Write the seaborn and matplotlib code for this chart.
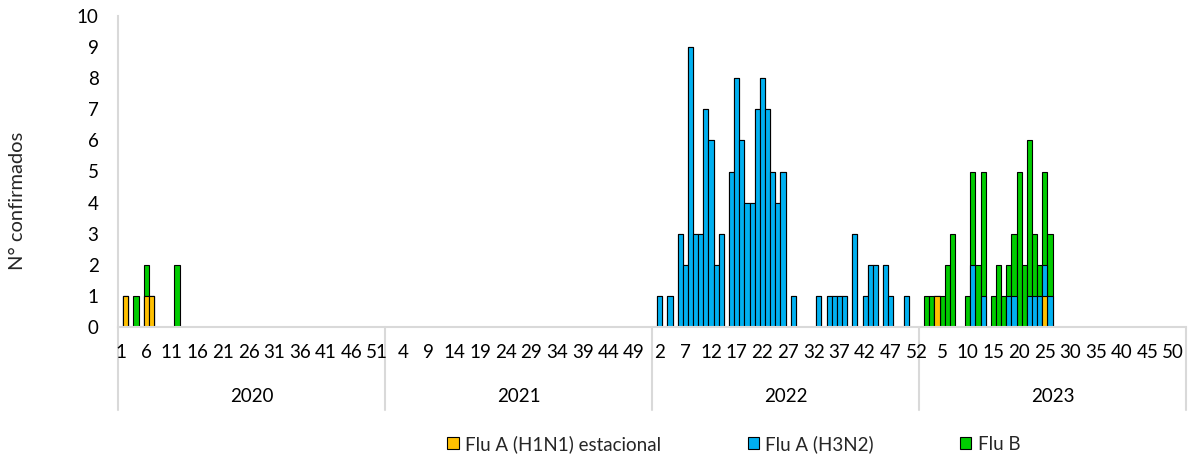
import numpy as np
import pandas as pd
import matplotlib
matplotlib.use("Agg")
import matplotlib.pyplot as plt
import matplotlib.transforms as mtransforms
from matplotlib.patches import Patch
import seaborn as sns

# ---- data ----
years = [2020, 2021, 2022, 2023]
weeks_per_year = 52
series_names = ["Flu A (H1N1) estacional", "Flu A (H3N2)", "Flu B"]
colors = ["#FFC000", "#00B0F0", "#00CC00"]

# (year, week, count)
h1n1_cases = [(2020, 2, 1), (2020, 6, 1), (2020, 7, 1), (2023, 4, 1), (2023, 25, 1)]
h3n2_cases = [
    (2022, 2, 1), (2022, 4, 1), (2022, 6, 3), (2022, 7, 2), (2022, 8, 9),
    (2022, 9, 3), (2022, 10, 3), (2022, 11, 7), (2022, 12, 6), (2022, 13, 2),
    (2022, 14, 3), (2022, 16, 5), (2022, 17, 8), (2022, 18, 6), (2022, 19, 4),
    (2022, 20, 4), (2022, 21, 7), (2022, 22, 8), (2022, 23, 7), (2022, 24, 5),
    (2022, 25, 4), (2022, 26, 5), (2022, 28, 1), (2022, 33, 1), (2022, 35, 1),
    (2022, 36, 1), (2022, 37, 1), (2022, 38, 1), (2022, 40, 3), (2022, 42, 1),
    (2022, 43, 2), (2022, 44, 2), (2022, 46, 2), (2022, 47, 1), (2022, 50, 1),
    (2023, 11, 2), (2023, 13, 1), (2023, 18, 1), (2023, 19, 1), (2023, 22, 1),
    (2023, 23, 1), (2023, 24, 1), (2023, 25, 1), (2023, 26, 1),
]
flub_cases = [
    (2020, 4, 1), (2020, 6, 1), (2020, 12, 2),
    (2023, 2, 1), (2023, 3, 1), (2023, 5, 1), (2023, 6, 2), (2023, 7, 3),
    (2023, 10, 1), (2023, 11, 3), (2023, 12, 2), (2023, 13, 4), (2023, 15, 1),
    (2023, 16, 2), (2023, 17, 1), (2023, 18, 1), (2023, 19, 2), (2023, 20, 5),
    (2023, 21, 2), (2023, 22, 5), (2023, 23, 2), (2023, 24, 1), (2023, 25, 3),
    (2023, 26, 2),
]

# ---- build table ----
rows = [(y, w) for y in years for w in range(1, weeks_per_year + 1)]
df = pd.DataFrame(rows, columns=["year", "week"])
df["idx"] = np.arange(len(df))


def to_series(cases):
    s = pd.Series(0.0, index=pd.MultiIndex.from_frame(df[["year", "week"]]))
    for y, w, v in cases:
        s[(y, w)] = v
    return s.values


df["h1n1"] = to_series(h1n1_cases)
df["h3n2"] = to_series(h3n2_cases)
df["flub"] = to_series(flub_cases)
df["top_b"] = df["h1n1"] + df["h3n2"] + df["flub"]
df["top_h3"] = df["h1n1"] + df["h3n2"]
df["top_h1"] = df["h1n1"]
for c in ["top_b", "top_h3", "top_h1"]:
    df[c] = df[c].replace(0, np.nan)

# ---- style ----
sns.set_theme(style="white")
plt.rcParams["font.family"] = ["Lato", "DejaVu Sans"]
fs = 13.5
axis_grey = "#D9D9D9"

fig = plt.figure(figsize=(11.96, 4.58), dpi=100)
W, H = 1196, 458
ax = fig.add_axes([118 / W, 1 - 327 / H, (1186 - 118) / W, (327 - 16) / H])

order = list(df["idx"])
for col, colr in zip(["top_b", "top_h3", "top_h1"], colors[::-1]):
    sns.barplot(data=df, x="idx", y=col, order=order, color=colr, saturation=1,
                width=1.0, edgecolor="black", linewidth=0.8, errorbar=None, ax=ax)

ax.set_ylim(0, 10)
ax.set_xlim(-0.5, len(df) - 0.5)
ax.set_yticks(range(0, 11))
ax.set_yticklabels([str(v) for v in range(0, 11)], fontsize=fs, color="#000000")
tick_pos = list(range(0, len(df), 5))
ax.set_xticks(tick_pos)
ax.set_xticklabels([str(df["week"][i]) for i in tick_pos], fontsize=fs, color="#000000")
ax.tick_params(axis="x", length=0, pad=12)
ax.tick_params(axis="y", length=0, pad=14)
ax.set_xlabel("")

for s in ["top", "right"]:
    ax.spines[s].set_visible(False)
for s in ["left", "bottom"]:
    ax.spines[s].set_color(axis_grey)
    ax.spines[s].set_linewidth(1.5)

ax.set_ylabel("N° confirmados", fontsize=14.5)
ax.yaxis.set_label_coords(-100 / 1068, 0.405)
ax.yaxis.label.set_verticalalignment("center")

# year group labels and separators
trans = mtransforms.blended_transform_factory(ax.transData, ax.transAxes)
for k, y in enumerate(years):
    start = k * weeks_per_year - 0.5
    center = start + weeks_per_year / 2
    ax.text(center, -0.222, str(y), transform=trans, ha="center", va="center",
            fontsize=fs, color="#000000")
for k in range(len(years) + 1):
    x = k * weeks_per_year - 0.5
    ax.plot([x, x], [0, -0.267], transform=trans, color=axis_grey, lw=1.5,
            clip_on=False, zorder=0)

handles = [Patch(facecolor=c, edgecolor="black", linewidth=0.8) for c in colors]
fig.legend(handles, series_names, loc="center", ncol=3,
           bbox_to_anchor=(734 / W, 1 - 444 / H), frameon=False, fontsize=fs,
           handlelength=0.6, handleheight=0.6, handletextpad=0.35,
           columnspacing=4.6)

fig.savefig("out.png", dpi=100)
